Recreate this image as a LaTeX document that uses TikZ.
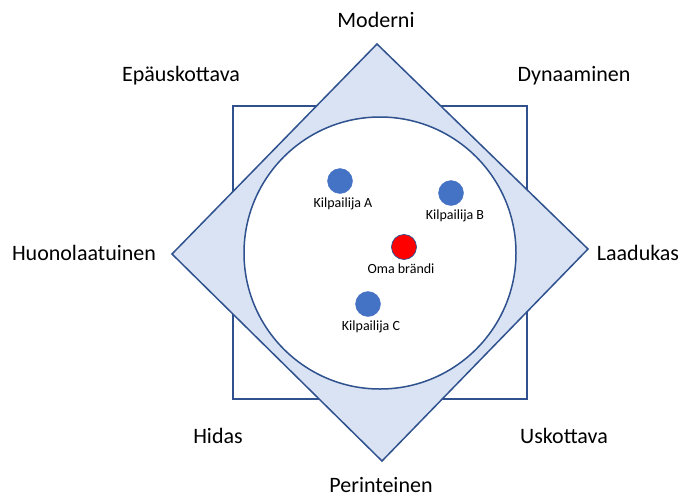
\documentclass[tikz,border=0pt]{standalone}
\usepackage{fontspec}
\setmainfont{Carlito}
\usetikzlibrary{positioning}
\definecolor{edgeblue}{HTML}{2F528F}
\definecolor{fillblue}{HTML}{DAE3F3}
\definecolor{dotblue}{HTML}{4472C4}

\begin{document}
\begin{tikzpicture}[x=1pt, y=-1pt,
    axislabel/.style={font=\fontsize{22}{26}\selectfont, inner sep=0pt},
    shapeline/.style={edgeblue, line width=1.5pt},
    brand/.style={circle, fill=dotblue, draw=dotblue, minimum size=25pt, inner sep=0pt},
    brandlabel/.style={font=\fontsize{14}{16}\selectfont, inner sep=0pt}]

    \useasboundingbox (0,0) rectangle (691,499);

    % Square
    \draw[shapeline, fill=white] (233,106) rectangle (527,399);

    % Diamond
    \draw[shapeline, fill=fillblue] (377,44) -- (588,249) -- (382,461) -- (172,254) -- cycle;

    % Circle
    \draw[shapeline, fill=white] (380,253) circle[radius=136pt];

    % Brands
    \node[brand] (kilpA) at (340,181) {};
    \node[brand] (kilpB) at (451,193) {};
    \node[brand, fill=red, draw=edgeblue, line width=0.75pt] (oma) at (404,247) {};
    \node[brand] (kilpC) at (368,304) {};

    \node[brandlabel, below=4pt of kilpA, xshift=3pt] (labA) {Kilpailija A};
    \node[brandlabel, below=4pt of kilpB, xshift=4pt] (labB) {Kilpailija B};
    \node[brandlabel, below=4pt of oma, xshift=-3pt] (labO) {Oma brändi};
    \node[brandlabel, below=4pt of kilpC, xshift=3pt] (labC) {Kilpailija C};

    % Axis labels
    \node[axislabel] (moderni) at (376,20) {Moderni};
    \node[axislabel] (perint) at (381,485) {Perinteinen};
    \node[axislabel] (huono) at (84,253) {Huonolaatuinen};
    \node[axislabel] (laadu) at (638,253) {Laadukas};
    \node[axislabel] (epaus) at (181,76) {Epäuskottava};
    \node[axislabel] (dynaa) at (574,76) {Dynaaminen};
    \node[axislabel] (hidas) at (218,436) {Hidas};
    \node[axislabel] (uskot) at (564,436) {Uskottava};
\end{tikzpicture}
\end{document}
